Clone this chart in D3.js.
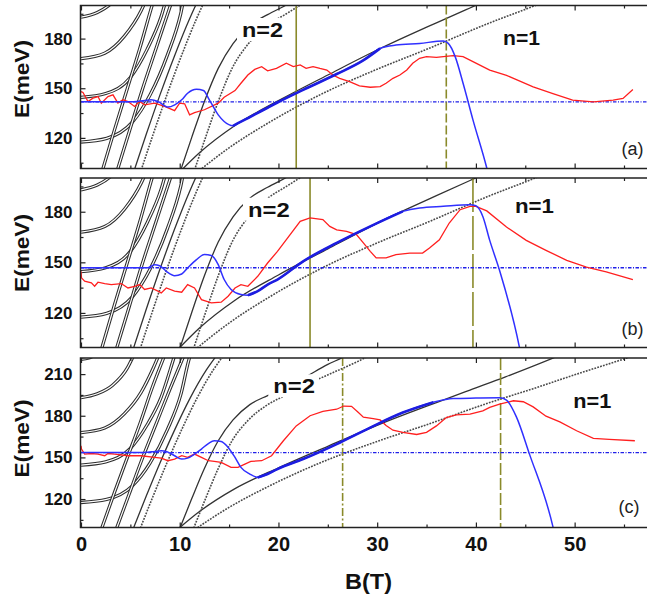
<!DOCTYPE html>
<html><head><meta charset="utf-8">
<script src="https://cdn.jsdelivr.net/npm/d3@7"></script>
<style>
body{margin:0;background:#fff}
svg{display:block}
text{font-family:"Liberation Sans",Arial,sans-serif}
</style>
</head><body>
<svg id="c" width="647" height="597"></svg>
<script>
// ---------------- data ----------------
const bMajor = [0, 10, 20, 30, 40, 50];
const bMinor = [5, 15, 25, 35, 45, 55];
const eMajor = [[120, 150, 180], [120, 150, 180], [120, 150, 180, 210]];
const eMinor = [[105, 135, 165, 195], [105, 135, 165, 195], [105, 135, 165, 195]];
const eDomains = [[101.5, 200], [99.5, 200], [99.5, 221.6]];
const panelTags = ["(a)", "(b)", "(c)"];
const levelLabels = ["n=2", "n=1"];
const hLevels = [141.8, 146.8, 153.4];
const vLines = [[21.8, 37.0], [23.2, 39.7], [26.5, 42.5]];
const thickRanges = [[15.4, 30.3], [16.9, 32.6], [17.9, 35.7]];

// theoretical fan (shared by all panels)
const fanDouble = [
  [[0,220.7],[0.8,221.6],[1.5,224]],
  [[0,193],[1.65,195.8],[3.2,202],[4.7,214.5],[5.3,223],[5.5,226]],
  [[0,167.9],[2.4,171.2],[4.4,181.5],[6.1,197],[7.3,214],[7.9,224]],
  [[0,144.5],[2.5,146.8],[5,156.5],[6.7,173.5],[8.1,193],[9.4,221.5],[9.6,226]],
  [[0,117.5],[2.6,119.7],[5.2,129.5],[7,146],[8.75,170],[10.1,195],[11,222],[11.2,226]],
  [[2.0,97],[3.4,125],[4.7,150],[6.0,175],[7.2,200],[8.5,224]],
  [[3.5,97],[4.9,124],[6.2,149],[7.6,174],[9.0,199],[10.4,223]]
];
const fanSolid = [
  [[5.2,97],[6.6,122],[8.0,146],[9.5,170],[11.0,192],[12.7,213],[13.8,224]],
  [[9.9,97],[11.2,120],[12.5,142],[13.9,162],[15.4,177],[17.1,188],[18.9,194.5],[21.0,201],[23,209],[25,217],[26.5,222],[27,224]],
  [[9.6,97],[12,111],[15.6,127.5],[20,142.5],[25,158],[30.3,174],[33,181.5],[36,189.5],[39.4,198.5],[43,208],[47.8,221.5],[49,225]]
];
const fanDotted = [
  [[5.9,97],[7.3,122],[8.7,146],[10.2,170],[11.7,192],[13.4,213],[14.5,224]],
  [[11.3,97],[12.6,120],[13.9,142],[15.3,162],[16.9,176.5],[18.8,187.5],[20.8,195],[23,203],[25.5,211],[28,219],[29,222.5]],
  [[11.3,97],[15,114],[19.1,129.5],[24.2,146],[30,161.5],[35,173.5],[41.4,189.5],[45.8,199.5],[50,209.5],[55.2,221.4],[57.5,227]]
];

// measured (red) and model (blue) curves
const redA = [[0,148],[0.2,147.4],[0.71,142],[1.21,144],[1.72,145],[2.06,141],[2.73,145],[3.24,146],[3.74,141],[4.25,143],[4.76,142],[5.43,139],[5.94,142],[6.44,140],[7.46,141],[8.47,139],[9.48,136.5],[9.99,141],[10.5,140.6],[11.0,133.9],[11.5,135.3],[12.5,137],[13.9,141],[14.5,144.6],[15.6,148.6],[16.2,153],[16.9,158],[17.6,161.4],[18.3,163],[18.9,160.5],[19.8,162],[20.8,165.1],[21.5,163.1],[22.2,164.1],[22.8,162],[23.5,163.1],[24.2,162],[24.9,161],[25.5,158],[26.2,156],[27.2,154],[28.2,151.4],[29.3,150.6],[30.3,151],[30.9,153],[31.6,156],[32.3,158],[33.0,161],[33.6,165.1],[34.3,168.1],[35.0,169.1],[36.0,168.7],[36.7,169.1],[37.7,169.7],[38.7,169.1],[39.7,166.1],[40.7,163.1],[41.4,161],[43.1,157.8],[45.8,150.8],[47.8,146.8],[49.8,142.8],[51.9,141.8],[53.9,142.8],[54.9,143.8],[55.9,149.2]];
const redB = [[0,144.7],[0.05,140.8],[0.37,138.8],[1.05,137.8],[1.38,135.8],[1.72,138.2],[2.4,137.4],[3.07,136.8],[4.08,137.4],[4.76,134.8],[5.43,135.8],[5.94,136.8],[6.44,133.9],[7.12,134.8],[7.79,132.9],[8.13,131.9],[8.64,134.8],[9.48,132.9],[10.2,132.3],[10.8,136.8],[11.5,134.8],[12.2,127.9],[13.2,126],[14.2,126.4],[14.9,129.9],[15.6,134.8],[16.2,136.8],[16.9,135.8],[17.9,141.7],[18.9,149.6],[19.9,156.5],[20.8,163.4],[22.2,174.3],[23.2,176.3],[24.5,175.3],[25.2,171.3],[25.9,169.3],[26.9,168.3],[27.9,166.4],[28.6,161.5],[29.3,156.5],[29.9,152.6],[30.9,152.6],[31.9,154.6],[33.3,155.5],[34.6,155.5],[35.3,158.5],[36.3,163.4],[37.3,173.3],[38.4,181.2],[39.4,183.2],[40.0,183.2],[41.1,180.5],[43.1,170.9],[45.1,163],[47.1,157.1],[49.2,151.2],[51.2,147.2],[53.2,144.3],[55.9,139.7]];
const redC = [[0,158.4],[0.05,156],[0.37,152.4],[1.05,152.8],[1.72,152.4],[2.4,151.2],[2.73,152.8],[3.41,152.4],[4.76,151.2],[6.1,151.2],[7.46,150],[8.13,149.5],[8.8,147.6],[9.48,148.8],[10.2,151.2],[10.8,150],[11.5,152.4],[12.2,150],[12.9,147.6],[13.5,147.1],[14.2,146.4],[15.2,142.8],[15.9,142.8],[16.6,145.2],[17.2,147.1],[18.3,147.6],[19.3,151.2],[20.5,162],[21.8,172.7],[23.2,180],[24.5,183.1],[25.9,184.7],[26.6,187],[27.4,186.8],[28.1,182.3],[28.6,179],[29.6,178],[30.3,177],[30.9,173],[31.6,169.6],[32.6,168],[34.0,166.5],[35.0,168],[36.0,172.7],[37.0,178.7],[38.0,180.7],[39.4,181.1],[40.7,183.5],[41.4,186],[42.4,188.4],[43.8,190.8],[44.8,190.1],[45.8,186.4],[47.1,179.7],[48.5,175.6],[50.2,169.2],[51.9,163.7],[53.5,163],[56.1,162]];

const blueA = [[0,141.8],[4.76,141.8],[6.44,142.6],[7.1,143],[7.8,142],[8.8,138.6],[9.5,140],[10.2,143],[10.8,147],[11.7,149.4],[12.4,148.6],[13.0,143],[13.9,133.9],[14.5,129.9],[15.4,127.3],[15.9,128.9],[17.2,132.9],[18.6,137.3],[19.9,141.4],[22.5,149],[25.9,158.6],[28.5,166.5],[30.3,174.1],[31.9,176.1],[34.3,177.1],[36.7,178.5],[37.2,177.1],[37.9,169.1],[38.7,153],[39.7,130.9],[41.1,101.8],[41.3,97]];
const blueB = [[0,146.8],[6.78,146.8],[7.46,148.6],[7.96,148],[8.64,144.7],[9.48,142.1],[10.2,143.1],[10.8,146.7],[11.7,151.6],[12.5,154.6],[13.2,154],[13.9,148.6],[14.5,139.8],[15.2,133.9],[16.2,130.9],[16.9,130.5],[17.9,132.9],[18.9,136.8],[19.9,139.8],[22.5,150.6],[25.9,161.5],[29.3,171.3],[32.6,180.2],[34.3,182.2],[36.7,183.2],[39.4,184.1],[40.0,183.5],[40.7,177.2],[41.4,163],[42.4,145.2],[44.4,99.9],[44.5,97]];
const blueC = [[0,153.6],[6.44,153.6],[7.46,154.3],[8.13,154.8],[8.64,154.3],[9.48,151.2],[10.2,148.8],[10.8,149.5],[11.5,152.4],[12.2,156],[12.9,160],[13.5,162],[14.2,161.5],[14.9,157.2],[15.6,150],[16.2,142.8],[17.1,138],[17.9,135.6],[18.9,138],[19.9,141.6],[22.5,148.8],[25.9,159.6],[29.3,171.5],[32.6,182.3],[35.7,189.8],[37.7,192.4],[40,192.7],[42.4,192.9],[43.1,191.2],[44.1,179.2],[45.4,152.9],[47.8,100.1],[47.9,97]];

const reds = [redA, redB, redC];
const blues = [blueA, blueB, blueC];

// ---------------- layout ----------------
const svg = d3.select("#c");
svg.append("rect").attr("width", 647).attr("height", 597).attr("fill", "#fff");
const LEFT = 80.5, RIGHT = 648;
const panels = [{top: 5.5, bottom: 168.5}, {top: 178, bottom: 347.5}, {top: 358, bottom: 527.5}];
const x = d3.scaleLinear().domain([0, 57.33]).range([81, 647]);
const vDash = [[null, "9,3"], [null, "34,4"], ["8,2.5,2,2.5", "12,3"]];
const n2Pos = [[242, 37, 41], [248, 216.7, 41.7], [273.3, 393.3, 41.7]];
const n1Pos = [[503, 45, 37], [515, 212.7, 39], [573.3, 408.3, 38]];
const tagPos = [[621.5, 154.5], [621.5, 334.5], [618.5, 513]];
const eLabY = [79, 253, 438.5];

panels.forEach((p, i) => {
  const y = d3.scaleLinear().domain(eDomains[i]).range([p.bottom, p.top]);
  const g = svg.append("g");
  const cid = "clip" + i;
  g.append("clipPath").attr("id", cid).append("rect")
    .attr("x", LEFT).attr("y", p.top).attr("width", RIGHT - LEFT).attr("height", p.bottom - p.top);
  const c = g.append("g").attr("clip-path", `url(#${cid})`);
  const smooth = d3.line().x(d => x(d[0])).y(d => y(d[1])).curve(d3.curveMonotoneX);
  const straight = d3.line().x(d => x(d[0])).y(d => y(d[1]));

  fanDouble.forEach(cv => {
    c.append("path").attr("d", smooth(cv)).attr("fill", "none").attr("stroke", "#2e2e2e").attr("stroke-width", 3.3);
    c.append("path").attr("d", smooth(cv)).attr("fill", "none").attr("stroke", "#fff").attr("stroke-width", 1.2);
  });
  fanSolid.forEach(cv => {
    c.append("path").attr("d", smooth(cv)).attr("fill", "none").attr("stroke", "#333").attr("stroke-width", 1.3);
  });
  fanDotted.forEach(cv => {
    c.append("path").attr("d", smooth(cv)).attr("fill", "none").attr("stroke", "#4a4a4a")
      .attr("stroke-width", 1.6).attr("stroke-dasharray", "1.8,1.2");
  });

  vLines[i].forEach((b, k) => {
    const ln = c.append("line").attr("x1", x(b)).attr("x2", x(b)).attr("y1", p.top).attr("y2", p.bottom)
      .attr("stroke", "#8a8a2a").attr("stroke-width", 1.6);
    if (vDash[i][k]) ln.attr("stroke-dasharray", vDash[i][k]);
  });

  c.append("line").attr("x1", LEFT).attr("x2", RIGHT).attr("y1", y(hLevels[i])).attr("y2", y(hLevels[i]))
    .attr("stroke", "#2020e8").attr("stroke-width", 1.3).attr("stroke-dasharray", "3.5,1.5,1,1.5");

  c.append("path").attr("d", straight(reds[i])).attr("fill", "none").attr("stroke", "#ff1f1f").attr("stroke-width", 1.3);
  c.append("path").attr("d", smooth(blues[i])).attr("fill", "none").attr("stroke", "#3030ff").attr("stroke-width", 1.5);
  const tr = thickRanges[i];
  const thick = blues[i].filter(d => d[0] >= tr[0] && d[0] <= tr[1]);
  c.append("path").attr("d", smooth(thick)).attr("fill", "none").attr("stroke", "#1d1de0").attr("stroke-width", 2.6);

  // frame
  g.append("rect").attr("x", LEFT).attr("y", p.top).attr("width", RIGHT - LEFT).attr("height", p.bottom - p.top)
    .attr("fill", "none").attr("stroke", "#222").attr("stroke-width", 1.5);

  // axes (inward ticks)
  const styleAxis = (a) => {
    a.select(".domain").remove();
    a.selectAll(".tick line").attr("stroke", "#222").attr("stroke-width", 1.2);
    a.selectAll("text").attr("font-family", '"Liberation Sans",Arial,sans-serif').attr("font-weight", "bold").attr("fill", "#111");
  };
  const bottomMajor = d3.axisBottom(x).tickValues(bMajor).tickSize(-5).tickPadding(9.5);
  if (i < 2) bottomMajor.tickFormat("");
  const ab = g.append("g").attr("transform", `translate(0,${p.bottom})`).call(bottomMajor);
  styleAxis(ab); ab.selectAll("text").attr("font-size", 20);
  styleAxis(g.append("g").attr("transform", `translate(0,${p.bottom})`).call(d3.axisBottom(x).tickValues(bMinor).tickSize(-3).tickFormat("")));
  styleAxis(g.append("g").attr("transform", `translate(0,${p.top})`).call(d3.axisTop(x).tickValues(bMajor).tickSize(-5).tickFormat("")));
  styleAxis(g.append("g").attr("transform", `translate(0,${p.top})`).call(d3.axisTop(x).tickValues(bMinor).tickSize(-3).tickFormat("")));
  const al = g.append("g").attr("transform", `translate(${LEFT},0)`).call(d3.axisLeft(y).tickValues(eMajor[i]).tickSize(-5).tickPadding(8));
  styleAxis(al); al.selectAll("text").attr("font-size", 17);
  styleAxis(g.append("g").attr("transform", `translate(${LEFT},0)`).call(d3.axisLeft(y).tickValues(eMinor[i]).tickSize(-3).tickFormat("")));

  // y title
  g.append("text").attr("transform", `translate(29,${eLabY[i]}) rotate(-90)`).attr("text-anchor", "middle")
    .attr("font-size", 20).attr("font-weight", "bold").attr("fill", "#111")
    .attr("textLength", 78).attr("lengthAdjust", "spacingAndGlyphs").text("E(meV)");

  // level labels with white background
  [[n2Pos[i], levelLabels[0]], [n1Pos[i], levelLabels[1]]].forEach(([pos, t]) => {
    g.append("rect").attr("x", pos[0] - 5).attr("y", pos[1] - 19).attr("width", pos[2] + 9).attr("height", 23).attr("fill", "#fff");
    g.append("text").attr("x", pos[0]).attr("y", pos[1]).attr("font-size", 19.5).attr("font-weight", "bold").attr("fill", "#111")
      .attr("textLength", pos[2]).attr("lengthAdjust", "spacingAndGlyphs").text(t);
  });
  g.append("text").attr("x", tagPos[i][0]).attr("y", tagPos[i][1]).attr("font-size", 18).attr("fill", "#222").text(panelTags[i]);
});

svg.append("text").attr("x", 368.5).attr("y", 589).attr("text-anchor", "middle").attr("font-size", 22)
  .attr("font-weight", "bold").attr("fill", "#111").attr("textLength", 47).attr("lengthAdjust", "spacingAndGlyphs").text("B(T)");
</script>
</body></html>
